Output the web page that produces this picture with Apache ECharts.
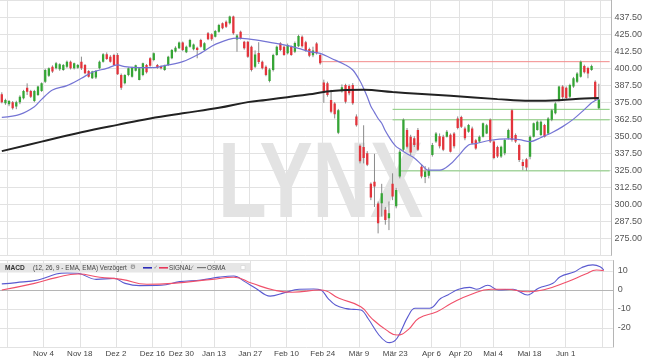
<!DOCTYPE html>
<html><head><meta charset="utf-8">
<script src="https://cdn.jsdelivr.net/npm/echarts@6/dist/echarts.min.js"></script>
<style>html,body{margin:0;padding:0;background:#fff}#c{width:645px;height:363px}</style>
</head><body><div id="c"></div>
<script>
// trading days (category axis)
const dates = [
'2019-10-17','2019-10-18','2019-10-21','2019-10-22','2019-10-23','2019-10-24','2019-10-25','2019-10-28','2019-10-29','2019-10-30','2019-10-31','2019-11-01',
'2019-11-04','2019-11-05','2019-11-06','2019-11-07','2019-11-08','2019-11-11','2019-11-12','2019-11-13','2019-11-14','2019-11-15',
'2019-11-18','2019-11-19','2019-11-20','2019-11-21','2019-11-22','2019-11-25','2019-11-26','2019-11-27','2019-11-28','2019-11-29',
'2019-12-02','2019-12-03','2019-12-04','2019-12-05','2019-12-06','2019-12-09','2019-12-10','2019-12-11','2019-12-12','2019-12-13',
'2019-12-16','2019-12-17','2019-12-18','2019-12-19','2019-12-20','2019-12-23','2019-12-24','2019-12-27','2019-12-30','2019-12-31',
'2020-01-02','2020-01-03','2020-01-06','2020-01-07','2020-01-08','2020-01-09','2020-01-10','2020-01-13','2020-01-14','2020-01-15','2020-01-16','2020-01-17',
'2020-01-20','2020-01-21','2020-01-22','2020-01-23','2020-01-24','2020-01-27','2020-01-28','2020-01-29','2020-01-30','2020-01-31',
'2020-02-03','2020-02-04','2020-02-05','2020-02-06','2020-02-07','2020-02-10','2020-02-11','2020-02-12','2020-02-13','2020-02-14',
'2020-02-17','2020-02-18','2020-02-19','2020-02-20','2020-02-21','2020-02-24','2020-02-25','2020-02-26','2020-02-27','2020-02-28',
'2020-03-02','2020-03-03','2020-03-04','2020-03-05','2020-03-06','2020-03-09','2020-03-10','2020-03-11','2020-03-12','2020-03-13',
'2020-03-16','2020-03-17','2020-03-18','2020-03-19','2020-03-20','2020-03-23','2020-03-24','2020-03-25','2020-03-26','2020-03-27',
'2020-03-30','2020-03-31','2020-04-01','2020-04-02','2020-04-03','2020-04-06','2020-04-07','2020-04-08','2020-04-09',
'2020-04-14','2020-04-15','2020-04-16','2020-04-17','2020-04-20','2020-04-21','2020-04-22','2020-04-23','2020-04-24',
'2020-04-27','2020-04-28','2020-04-29','2020-04-30','2020-05-04','2020-05-05','2020-05-06','2020-05-07','2020-05-08',
'2020-05-11','2020-05-12','2020-05-13','2020-05-14','2020-05-15','2020-05-18','2020-05-19','2020-05-20','2020-05-21','2020-05-22',
'2020-05-25','2020-05-26','2020-05-27','2020-05-28','2020-05-29','2020-06-01','2020-06-02','2020-06-03','2020-06-04','2020-06-05',
'2020-06-08','2020-06-09','2020-06-10','2020-06-11','2020-06-12','2020-06-15','2020-06-16','2020-06-17'
];

// x tick labels (two-week Mondays) and vertical grid dates
const labelDates = ['2019-11-04','2019-11-18','2019-12-02','2019-12-16','2019-12-30','2020-01-13','2020-01-27','2020-02-10','2020-02-24','2020-03-09','2020-03-23','2020-04-06','2020-04-20','2020-05-04','2020-05-18','2020-06-01'];
const tickLabels = ['Nov 4','Nov 18','Dez 2','Dez 16','Dez 30','Jan 13','Jan 27','Feb 10','Feb 24','Mär 9','Mär 23','Apr 6','Apr 20','Mai 4','Mai 18','Jun 1'];
const gridDates = ['2019-10-21'].concat(labelDates, ['2020-06-15']);

// daily candles, one row per trading day from dates[0]: [open, close, low, high]
const ohlc = [
[380.7,374.9,374.1,382.2],[374.1,376.6,373,377.5],[373.4,375.8,372,376.5],[374.9,370.5,369.5,375.8],[371.7,374.9,369.8,376],
[374.9,379.0,373.5,380],[377.8,383.2,377,384],[385.6,382.7,380.2,388.8],[383.2,379.0,378,384],[375.8,383.2,375,384],
[380.2,386.4,379.5,387],[383.2,388.8,382.5,389.5],[390.0,398.6,389,399.5],[394.4,399.8,393.5,400.5],[401,397.4,396.5,402],
[399.8,403.5,399,404.5],[399.1,402.8,398,403.5],[398.6,402.3,398,403],[401.0,404.7,400,405.5],[404.7,399.8,399,405.5],
[399.8,403.5,399,404],[400.3,402.3,399.5,403],[404.7,399.8,398.6,408.4],[402.3,396.2,395.5,403],[397.9,393.7,393,398.5],
[392.5,397.4,392,398],[393,397.9,392,398.5],[399.8,404.7,399,405.5],[404.7,410.1,404,411],[410.1,406.7,406,411.5],
[408.4,404.7,404,409.5],[409.6,402.3,401.5,410.5],[409.6,395.4,395,411],[394.9,385.6,384,396],[388.8,394.9,388,395.5],
[394.9,399.8,394,400.5],[393.7,400.3,393,401],[398.0,402.0,397.5,402.5],[391.3,399.8,391,400.5],[394.9,403.5,394,404],
[402.3,396.9,396,403],[407.2,401.8,401,408],[405.9,410.8,405,411.5],[402.3,400.3,399.5,403],[401.5,399.8,399,402],
[398.6,401.8,398,402.5],[402.3,408.4,401.5,409],[407.2,413.3,406.5,414],[412.1,415,411.5,416],[414.5,418.7,414,419.5],
[418.7,413.3,412.5,419.5],[411.6,415.7,411,416.5],[415.7,420.6,415,421.5],[413.8,417.4,413,418],[415,413.3,407.2,415.7],
[420.6,415.7,415,421.5],[413.3,418.2,412.5,419],[425.5,421.1,420.5,426.5],[424.8,421.1,420,425.5],[423.1,427.2,422.5,428],
[426.7,431.6,426,432.5],[432.9,429.2,428.5,433.5],[434.1,430.4,429.5,435],[432.9,437.8,432,438.5],[437.8,425.5,424.5,438.5],
[421,424,412,425],[426.7,421.9,421,427.5],[419.4,414.5,413.5,420],[419.4,408.4,407.5,420],[415.7,398.6,397.5,416.5],
[401,410,400,413],[411,404.5,403,419],[404.7,399.8,399,405.5],[401,394.9,394,402],[390.5,399,389.5,400],
[398.6,409.6,397.5,410.5],[409.6,415.7,409,416.5],[418.2,413.3,412.5,419],[415.7,409.6,409,416.5],[410.8,417,410,418],
[415.7,409.6,409,416.5],[412,418.5,411,419.5],[416,423.5,415.5,424.5],[423,416,415,424],[419,413,412,420],
[414,409,408,415],[409.5,413,408,415.7],[418,410.8,410,419],[409.6,403.5,402.5,410.5],[389.5,382,374.5,391.5],
[388.8,380.2,379,390],[376.5,368,366.8,384],[374,366,363,375],[352.5,369,351.5,370],[383,386,382,388],
[387.6,375.3,374,388.5],[386.8,381.5,380,388],[387.6,374.1,373,389],[364.5,358,357,366],[343,331.5,330,344],
[342,334,330,358],[337.5,329,328,339],[315,305,303,316],[316.5,313,298,337],[300.5,286,278.6,302],
[300.7,308,291,315],[296,288.5,285,298],[289.7,293.3,281,302],[315,305.6,303,322.7],[298.5,310.5,297,312],
[320.3,338.6,319,340],[340,362,339,363],[354.5,342.3,341,356],[349.6,338,336,351],[348.4,343.5,342,350],
[354.5,340,339,356],[327.6,320.3,319,329],[320,324,315.5,328],[321,325,319,327],[336.2,343.5,335,345],
[346,352,345,353],[350,342.5,341,352],[349.6,340,339,351],[349.6,353.3,349,354.5],[351,338.6,338,352],
[352,342.5,341,353],[363,356,355,364.5],[364,357,356,365],[355.7,348.4,347,357],[353.3,358.2,352.5,359],
[355.7,344.7,344,357],[347,341,340,348],[346,349.6,345,350.5],[349.6,359.4,349,360],[352,358,351.5,359],
[362,346,345,363],[346,334,333,347],[342,335,334,343],[335,342.3,334,343],[337.4,347.2,336,348],
[348.4,354.5,347.5,355.5],[369,347.2,346,370],[350.8,346,345,352],[343.5,332.5,331,344.5],[331,328,325,333],
[333,327,324.5,334],[334.9,349.6,333,350.5],[349.6,359.4,349,360],[354.5,360.6,354,361.5],[350.8,360.6,350,361.5],
[358.2,349.6,349,359],[352,363,351,364],[362,369,361,370],[366.8,374,366,375],[376.6,386.4,375.5,387],
[386.4,378.5,377,387.5],[385.5,378,377,386.5],[379,387.5,378,388.5],[386.4,392.5,385.5,393.5],[390,396,389,397],
[393.7,404.7,393,405.5],[401.5,397,396,402.5],[400,396,392.5,401],[398.5,401.5,398,402.5],[390,377,376,391],
[370.5,377,370,388.5]
];

// moving averages: [trading-day index, value]
const emaPts = [[0,363.8],[5,366],[9,371.6],[11,377],[14,383.9],[18,387.1],[22,392.5],[25,396.9],[29,399.8],[32,402.3],[34,401],[38,400.3],[42,400.3],[45,401.8],[50,404.7],[55,411],[59,417.4],[65,422],[68,421.4],[73,419.4],[78,417],[82,414.5],[85,412.1],[88,410.8],[91,407.2],[95,402.3],[97,398.6],[99,390.5],[100,385],[101,379],[102,372],[103,367.5],[104,363],[105,359.5],[106,354],[107,349.5],[108,345.5],[109,342.3],[110,340.5],[112,337],[114,334],[116,329],[118,325],[121,325],[124,329.5],[126,335],[129,343.5],[131,344.5],[135,347],[140,348],[143,347.5],[146,346],[149,349],[152,352.5],[155,357],[158,362.5],[161,369.5],[163,374.5],[165,377.5]];
const ma200Pts = [[0,339],[11,346],[22,352.8],[32,358.3],[41,363],[50,366.8],[60,370.8],[68,375],[73,376.6],[85,380.7],[89,382.5],[94,383.8],[100,384],[108,382.4],[115,381.2],[124,379.6],[137,377.2],[146,376],[154,376.4],[161,377.7],[165,378]];

// horizontal levels: [start index, value]
const resistance = [88, 404.7];
const supports = [[108, 369.7], [108, 362.0], [110, 324.5]];

// MACD panel
const macdPts = [[0,3.2],[4,3.9],[10,5.3],[15,8.4],[18,9.0],[21,8.8],[26,5.6],[31,6.1],[34,3.5],[38,2.3],[44,2.5],[49,4.4],[55,5.3],[60,6.8],[64,7.4],[67,4.4],[70,0.9],[74,-3.2],[78,-1.4],[82,0.4],[86,0.5],[88,0],[90,-4.5],[92,-7.9],[95,-9.8],[97,-10.2],[99,-10.5],[101,-15],[104,-23.7],[106,-27.3],[107,-27.7],[109,-25.4],[112,-14],[114,-9.6],[118,-9.6],[121,-4.5],[123,-2.6],[126,0.4],[129,1.4],[131,0.4],[134,2.5],[137,0],[141,0.4],[145,-2.6],[148,0.9],[152,3.5],[154,7],[158,9.6],[160,11.9],[163,13.2],[165,12.3],[166,10.5]];
const signalPts = [[0,0],[9,3.5],[15,6.5],[21,8.4],[27,6.7],[33,5.6],[40,3],[47,3.5],[58,5.6],[64,6.7],[69,3.5],[75,0],[80,-1.2],[88,0],[93,-4.4],[99,-8.8],[102,-14.9],[106,-21],[109,-23.7],[112,-21],[115,-14.9],[120,-11.4],[124,-7],[129,-2.6],[135,0.4],[139,0.4],[145,-0.9],[150,0.4],[156,4.4],[161,8.4],[164,10.5],[166,10.2]];

const GREEN = '#35a535', RED = '#e3333b', WICK = '#8a8a8a';
const GRID = '#e2e2e2';
const FONT = 'Liberation Sans, Arial, sans-serif';
const last = dates.length - 1;

const candleData = ohlc.map((r, i) => [i, r[0], r[1], r[2], r[3]]);
const gridSet = new Set(gridDates);
const labelMap = {};
labelDates.forEach((d, k) => { labelMap[d] = tickLabels[k]; });

function renderCandle(params, api) {
  const i = api.value(0);
  const o = api.value(1), c = api.value(2), l = api.value(3), h = api.value(4);
  const pO = api.coord([i, o]), pC = api.coord([i, c]);
  const pL = api.coord([i, l]), pH = api.coord([i, h]);
  const w = 2.3;
  const top = Math.min(pO[1], pC[1]);
  const hh = Math.max(Math.abs(pO[1] - pC[1]), 1);
  return {
    type: 'group',
    children: [
      {type: 'line', shape: {x1: pH[0], y1: pH[1], x2: pL[0], y2: pL[1]}, style: {stroke: WICK, lineWidth: 1}},
      {type: 'rect', shape: {x: pO[0] - w / 2, y: top, width: w, height: hh}, style: {fill: c >= o ? GREEN : RED}}
    ]
  };
}

function levelSeries(start, v, color) {
  return {type: 'line', xAxisIndex: 0, yAxisIndex: 0, data: [[start, v], [last, v]], symbol: 'none',
    lineStyle: {color: color, width: 1}, silent: true, z: 2};
}

const chart = echarts.init(document.getElementById('c'), null, {renderer: 'canvas'});
const option = {
  animation: false,
  textStyle: {fontFamily: FONT},
  grid: [
    {left: 0, top: 0, width: 612.8, height: 255.3},
    {left: 0, top: 260.55, width: 612.8, height: 86.45}
  ],
  xAxis: [
    {type: 'category', gridIndex: 0, data: dates, boundaryGap: true,
      axisLine: {show: false}, axisTick: {show: false}, axisLabel: {show: false},
      splitLine: {show: true, interval: (i, v) => gridSet.has(v), lineStyle: {color: GRID, width: 1}}},
    {type: 'category', gridIndex: 1, data: dates, boundaryGap: true,
      axisLine: {show: true, lineStyle: {color: '#b5b5b5'}}, axisTick: {show: false},
      axisLabel: {interval: (i, v) => !!labelMap[v], formatter: v => labelMap[v] || '', fontSize: 8, color: '#444', margin: 3, fontFamily: FONT, padding: [0, 3.6, 0, 0]},
      splitLine: {show: true, interval: (i, v) => gridSet.has(v), lineStyle: {color: GRID, width: 1}}}
  ],
  yAxis: [
    {type: 'value', gridIndex: 0, position: 'right', min: 262.5, max: 450, interval: 12.5,
      axisLine: {show: true, lineStyle: {color: '#b5b5b5'}}, axisTick: {show: false},
      axisLabel: {fontSize: 9, color: '#555', margin: 3, fontFamily: FONT, formatter: v => (v < 270 || v > 440) ? '' : v.toFixed(2)},
      splitLine: {show: true, lineStyle: {color: GRID, width: 1}}},
    {type: 'value', gridIndex: 1, position: 'right', min: -30, max: 15.5, interval: 10,
      axisLine: {show: true, lineStyle: {color: '#b5b5b5'}}, axisTick: {show: false},
      axisLabel: {fontSize: 9, color: '#555', margin: 5, fontFamily: FONT, formatter: v => (v < -25 || v > 12) ? '' : String(v)},
      splitLine: {show: true, lineStyle: {color: GRID, width: 1}}}
  ],
  graphic: [
    {type: 'text', x: 218, y: 187.5, scaleX: 0.745, z: 1, silent: true,
      style: {text: 'LYNX', font: 'bold 107px ' + FONT, fill: '#e3e3e3', textAlign: 'left', textVerticalAlign: 'middle'}},
    {type: 'rect', z: 50, shape: {x: 0, y: 263, width: 250, height: 9.5}, style: {fill: '#e6e6e6'}},
    {type: 'text', z: 51, x: 5, y: 267.8, style: {text: 'MACD', font: 'bold 6.6px ' + FONT, fill: '#333', textVerticalAlign: 'middle'}},
    {type: 'text', z: 51, x: 33, y: 267.8, style: {text: '(12, 26, 9 - EMA, EMA) Verzögert', font: '6.3px ' + FONT, fill: '#444', textVerticalAlign: 'middle'}},
    {type: 'text', z: 51, x: 130, y: 267.8, style: {text: '⚙', font: '6.5px DejaVu Sans', fill: '#777', textVerticalAlign: 'middle'}},
    {type: 'rect', z: 51, shape: {x: 143, y: 267, width: 9, height: 1.6}, style: {fill: '#2c2cb8'}},
    {type: 'text', z: 51, x: 153.5, y: 267.8, style: {text: '✓', font: '5.5px DejaVu Sans', fill: '#888', textVerticalAlign: 'middle'}},
    {type: 'rect', z: 51, shape: {x: 159, y: 267, width: 9, height: 1.6}, style: {fill: '#e8385a'}},
    {type: 'text', z: 51, x: 169, y: 267.8, style: {text: 'SIGNAL', font: '6.3px ' + FONT, fill: '#444', textVerticalAlign: 'middle'}},
    {type: 'text', z: 51, x: 190, y: 267.8, style: {text: '✓', font: '5.5px DejaVu Sans', fill: '#888', textVerticalAlign: 'middle'}},
    {type: 'rect', z: 51, shape: {x: 197, y: 267, width: 9, height: 1.2}, style: {fill: '#777'}},
    {type: 'text', z: 51, x: 207, y: 267.8, style: {text: 'OSMA', font: '6.3px ' + FONT, fill: '#444', textVerticalAlign: 'middle'}},
    {type: 'rect', z: 51, shape: {x: 241, y: 265.5, width: 4, height: 4}, style: {fill: '#fff', stroke: '#ccc', lineWidth: 0.5}}
  ],
  series: [
    {type: 'custom', name: 'Kurs', xAxisIndex: 0, yAxisIndex: 0, renderItem: renderCandle, data: candleData,
      encode: {x: 0, y: [1, 2, 3, 4]}, z: 3, clip: true},
    {type: 'line', name: 'EMA', xAxisIndex: 0, yAxisIndex: 0, data: emaPts, symbol: 'none', smooth: 0.35,
      lineStyle: {color: '#7474d4', width: 1.2}, z: 4},
    {type: 'line', name: 'GD200', xAxisIndex: 0, yAxisIndex: 0, data: ma200Pts, symbol: 'none', smooth: 0.4,
      lineStyle: {color: '#222', width: 2}, z: 4},
    levelSeries(resistance[0], resistance[1], '#f28a8a'),
    ...supports.map(s => levelSeries(s[0], s[1], '#86cc7a')),
    {type: 'line', name: 'MACD', xAxisIndex: 1, yAxisIndex: 1, data: macdPts, symbol: 'none', smooth: 0.4,
      lineStyle: {color: '#5a5ad0', width: 1.1}, z: 4},
    {type: 'line', name: 'SIGNAL', xAxisIndex: 1, yAxisIndex: 1, data: signalPts, symbol: 'none', smooth: 0.5,
      lineStyle: {color: '#f0506a', width: 1.1}, z: 4}
  ]
};
chart.setOption(option);
</script>
</body></html>
